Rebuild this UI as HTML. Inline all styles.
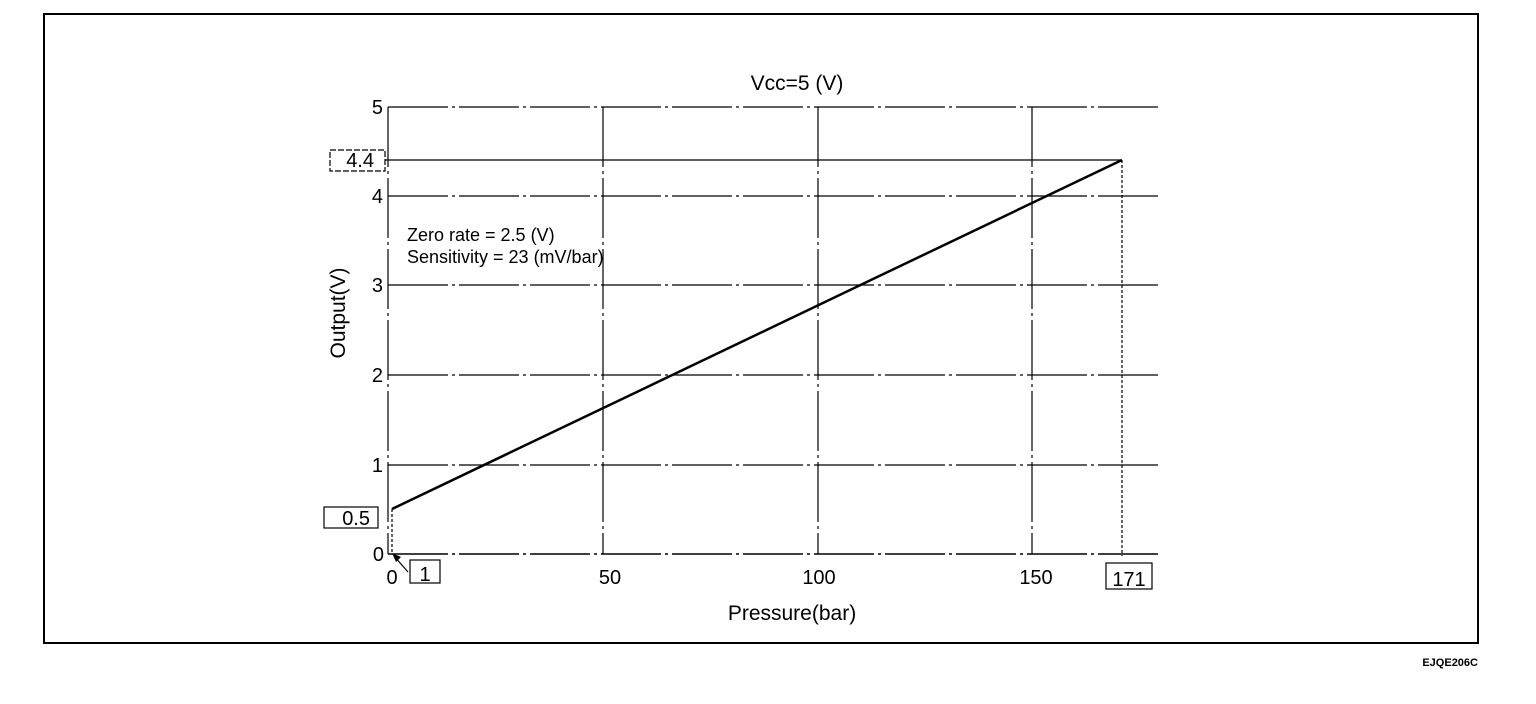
<!DOCTYPE html>
<html><head><style>body{margin:0;background:#fff}svg{display:block}</style></head><body>
<svg width="1536" height="704" xmlns="http://www.w3.org/2000/svg" font-family="Liberation Sans, Arial, sans-serif">
<rect x="44" y="14" width="1434" height="629" fill="none" stroke="#000" stroke-width="2"/>
<g stroke="#000" stroke-width="1.2" stroke-dasharray="60 4 3 4">
<line x1="388" y1="107" x2="1160" y2="107"/>
<line x1="388" y1="196" x2="1160" y2="196"/>
<line x1="388" y1="285" x2="1160" y2="285"/>
<line x1="388" y1="375" x2="1160" y2="375"/>
<line x1="388" y1="465" x2="1160" y2="465"/>
<line x1="603" y1="107" x2="603" y2="554"/>
<line x1="818" y1="107" x2="818" y2="554"/>
<line x1="1032" y1="107" x2="1032" y2="554"/>
<line x1="388" y1="107" x2="388" y2="554"/>
</g>
<line x1="388" y1="554" x2="1160" y2="554" stroke="#000" stroke-width="1.5" stroke-dasharray="60 4 3 4"/>
<line x1="385" y1="160" x2="1122" y2="160" stroke="#000" stroke-width="1.2"/>
<line x1="1122" y1="160" x2="1122" y2="556" stroke="#000" stroke-width="1.2" stroke-dasharray="3 2"/>
<line x1="392" y1="509" x2="392" y2="554" stroke="#000" stroke-width="1.2" stroke-dasharray="3 2"/>
<line x1="392" y1="509" x2="1122" y2="160" stroke="#000" stroke-width="2.5"/>
<line x1="408" y1="572" x2="394" y2="556" stroke="#000" stroke-width="1.2"/>
<polygon points="392,553 401,557 396,562" fill="#000"/>
<g fill="none" stroke="#000" stroke-width="1.2">
<rect x="324" y="507" width="54" height="21"/>
<rect x="330" y="150" width="55" height="21" stroke-dasharray="6 2"/>
<rect x="410" y="560" width="30" height="23"/>
<rect x="1106" y="563" width="46" height="26"/>
</g>
<g font-size="20" fill="#000" text-anchor="end">
<text x="383" y="114">5</text>
<text x="383" y="203">4</text>
<text x="383" y="292">3</text>
<text x="383" y="382">2</text>
<text x="383" y="472">1</text>
<text x="384" y="561">0</text>
<text x="370" y="525">0.5</text>
<text x="374" y="167">4.4</text>
</g>
<g font-size="20" fill="#000" text-anchor="middle">
<text x="392" y="584">0</text>
<text x="425" y="581">1</text>
<text x="610" y="584">50</text>
<text x="819" y="584">100</text>
<text x="1036" y="584">150</text>
<text x="1129" y="586">171</text>
<text x="792" y="620" font-size="21">Pressure(bar)</text>
<text x="797" y="90" font-size="21">Vcc=5 (V)</text>
</g>
<text transform="translate(345,313) rotate(-90)" font-size="21" text-anchor="middle">Output(V)</text>
<text x="407" y="241" font-size="18">Zero  rate = 2.5 (V)</text>
<text x="407" y="263" font-size="18">Sensitivity = 23 (mV/bar)</text>
<text x="1478" y="666" font-size="11" font-weight="bold" text-anchor="end">EJQE206C</text>
</svg>
</body></html>
